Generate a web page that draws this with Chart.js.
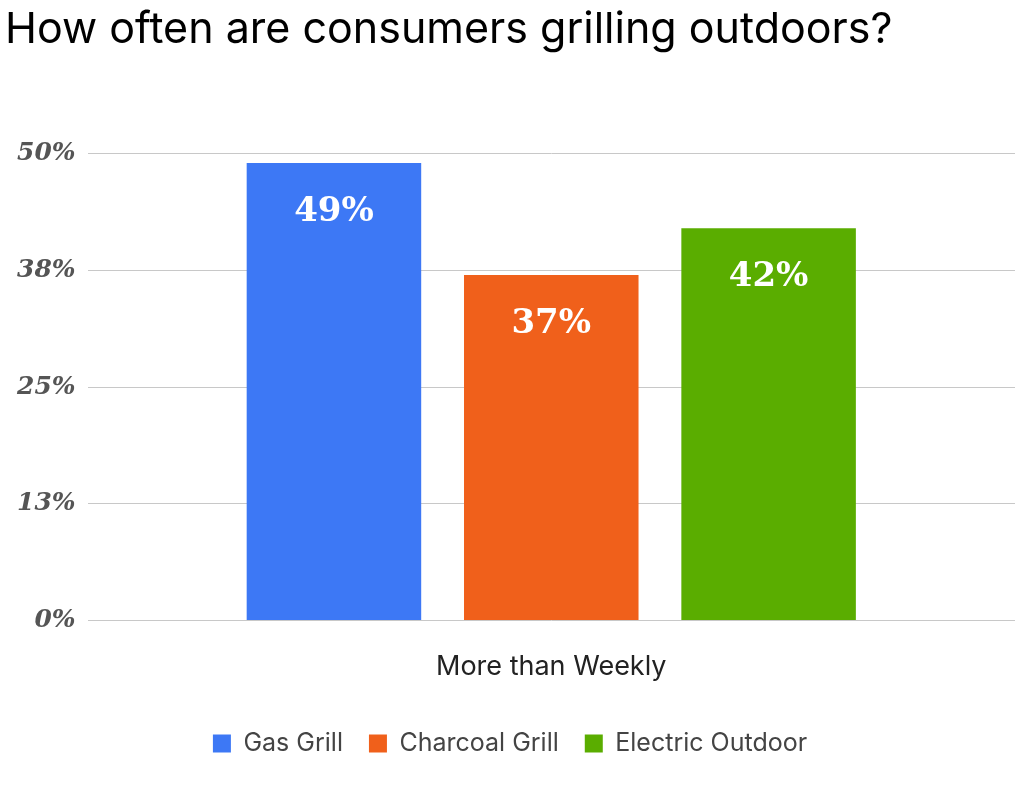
<!DOCTYPE html>
<html><head><meta charset="utf-8">
<script src="https://cdn.jsdelivr.net/npm/chart.js@4/dist/chart.umd.min.js"></script>
<style>html,body{margin:0;background:#fff}</style>
</head><body><canvas id="c" width="1024" height="786"></canvas>
<script>
const categories = ["More than Weekly"];
const seriesNames = ["Gas Grill", "Charcoal Grill", "Electric Outdoor"];
const gasGrill = [49];
const charcoalGrill = [37];
const electricOutdoor = [42];
const colors = ["#3d78f5", "#f0601b", "#5aad00"];
const tickValues = [0, 12.5, 25, 37.5, 50];
const tickLabels = ["0%", "13%", "25%", "38%", "50%"];

const valueLabels = {
  id: 'valueLabels',
  afterDatasetsDraw(chart) {
    const ctx = chart.ctx;
    ctx.save();
    ctx.fillStyle = '#fff';
    ctx.font = 'bold 34px "DejaVu Serif", serif';
    ctx.textAlign = 'center';
    ctx.textBaseline = 'top';
    chart.data.datasets.forEach((ds, i) => {
      chart.getDatasetMeta(i).data.forEach((bar, j) => {
        ctx.fillText(ds.data[j] + '%', bar.x, bar.y + 32);
      });
    });
    ctx.restore();
  }
};

new Chart(document.getElementById('c'), {
  type: 'bar',
  data: {
    labels: categories,
    datasets: [
      { label: seriesNames[0], data: gasGrill, backgroundColor: colors[0] },
      { label: seriesNames[1], data: charcoalGrill, backgroundColor: colors[1] },
      { label: seriesNames[2], data: electricOutdoor, backgroundColor: colors[2] }
    ]
  },
  options: {
    responsive: false, animation: false,
    devicePixelRatio: 1,
    categoryPercentage: 0.703, barPercentage: 0.803,
    layout: { padding: { left: 5, right: 9, top: 0, bottom: 20 } },
    plugins: {
      title: { display: true, text: 'How often are consumers grilling outdoors?', align: 'start',
        color: '#000', font: { family: 'Inter, "Noto Sans", sans-serif', size: 43, weight: 'normal' },
        padding: { top: 4, bottom: 98 } },
      legend: { position: 'bottom', labels: { boxWidth: 18, boxHeight: 18, color: '#444', padding: 26,
        font: { family: 'Inter, "Noto Sans", sans-serif', size: 25 } } },
      tooltip: { enabled: false }
    },
    scales: {
      x: { grid: { display: false }, border: { display: false },
        ticks: { color: '#222', padding: 22, font: { family: 'Inter, "Noto Sans", sans-serif', size: 27 } } },
      y: { min: 0, max: 50, border: { display: false },
        grid: { color: '#c8c8c8', lineWidth: 1, drawTicks: false },
        afterBuildTicks(s) { s.ticks = tickValues.map(v => ({ value: v })); },
        ticks: { padding: 12, color: '#555',
          callback: (v) => tickLabels[tickValues.indexOf(v)],
          font: { family: '"DejaVu Serif", serif', size: 25, style: 'italic', weight: 'bold' } } }
    }
  },
  plugins: [valueLabels]
});
</script>
</body></html>
